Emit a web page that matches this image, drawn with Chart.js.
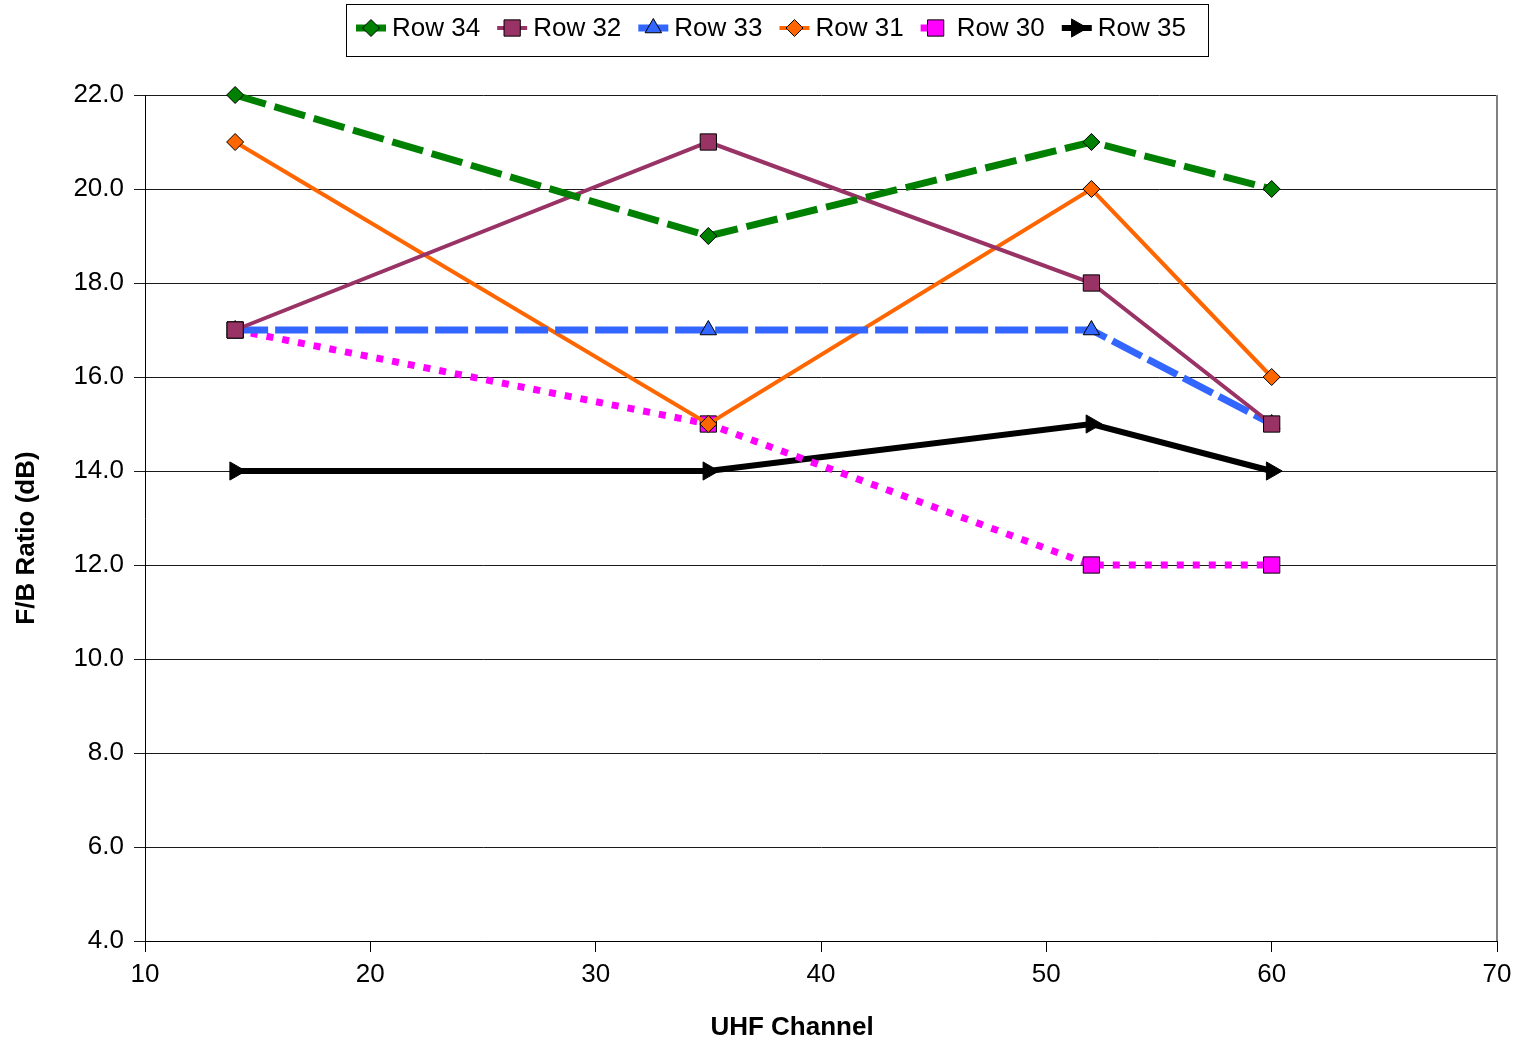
<!DOCTYPE html>
<html>
<head>
<meta charset="utf-8">
<title>F/B Ratio by UHF Channel</title>
<script src="https://cdn.jsdelivr.net/npm/chart.js@4/dist/chart.umd.min.js"></script>
<style>
  html, body { margin: 0; padding: 0; background: #fff; }
  #wrap { width: 1522px; height: 1045px; position: relative; }
  canvas { display: block; }
</style>
</head>
<body>
<div id="wrap"><canvas id="chart" width="1522" height="1045"></canvas></div>
<script>
// UHF channels measured
const channels = [14, 35, 52, 60];

// Front-to-back ratio (dB) per row
const row34 = [22, 19, 21, 20];
const row32 = [17, 21, 18, 15];
const row33 = [17, 17, 17, 15];
const row31 = [21, 15, 20, 16];
const row30 = [17, 15, 12, 12];
const row35 = [14, 14, 15, 14];

const seriesNames = ['Row 34', 'Row 32', 'Row 33', 'Row 31', 'Row 30', 'Row 35'];
const seriesValues = [row34, row32, row33, row31, row30, row35];

// Axis ticks
const xTicks = [10, 20, 30, 40, 50, 60, 70];
const yTicks = [4, 6, 8, 10, 12, 14, 16, 18, 20, 22];

const xTitle = 'UHF Channel';
const yTitle = 'F/B Ratio (dB)';

const FONT = '"Liberation Sans", Arial, sans-serif';

// Line and marker style per series
const styles = [
  { color: '#008000', width: 7, dash: [32, 9], point: 'rectRot', radius: 8.5, rotation: 0 },
  { color: '#993366', width: 4, dash: [],      point: 'rect',    radius: 11.5, rotation: 0 },
  { color: '#3366ff', width: 7, dash: [33, 7], point: 'triangle', radius: 9.5, rotation: 0 },
  { color: '#ff6600', width: 4, dash: [],      point: 'rectRot', radius: 8.5, rotation: 0 },
  { color: '#ff00ff', width: 7, dash: [7, 9],  point: 'rect',    radius: 11.5, rotation: 0 },
  { color: '#000000', width: 6, dash: [],      point: 'triangle', radius: 10.5, rotation: 90 }
];

const datasets = seriesNames.map((name, i) => {
  const s = styles[i];
  return {
    label: name,
    data: channels.map((ch, k) => ({ x: ch, y: seriesValues[i][k] })),
    borderColor: s.color,
    backgroundColor: s.color,
    borderWidth: s.width,
    borderDash: s.dash,
    borderCapStyle: 'butt',
    borderJoinStyle: 'miter',
    pointStyle: s.point,
    pointRadius: s.radius,
    pointHoverRadius: s.radius,
    pointRotation: s.rotation,
    pointBackgroundColor: s.color,
    pointBorderColor: '#000',
    pointBorderWidth: 1,
    tension: 0,
    fill: false,
    clip: false
  };
});

// Frame on the right edge of the plot
const frame = {
  id: 'frame',
  beforeDatasetsDraw(chart) {
    const { ctx, chartArea: a } = chart;
    ctx.save();
    ctx.strokeStyle = '#808080';
    ctx.lineWidth = 2;
    ctx.beginPath();
    ctx.moveTo(a.right, a.top);
    ctx.lineTo(a.right, a.bottom);
    ctx.stroke();
    ctx.restore();
  }
};

// Axis titles
const titles = {
  id: 'titles',
  afterDraw(chart) {
    const { ctx } = chart;
    ctx.save();
    ctx.fillStyle = '#000';
    ctx.font = 'bold 26px ' + FONT;
    ctx.textAlign = 'center';
    ctx.textBaseline = 'middle';
    ctx.fillText(xTitle, 792, 1028);
    ctx.translate(27, 538);
    ctx.rotate(-Math.PI / 2);
    ctx.fillText(yTitle, 0, 0);
    ctx.restore();
  }
};

// Boxed legend with a line sample and marker per series
const boxLegend = {
  id: 'boxLegend',
  afterDraw(chart) {
    const { ctx } = chart;
    ctx.save();
    ctx.strokeStyle = '#000';
    ctx.lineWidth = 1;
    ctx.strokeRect(346.5, 4.5, 862, 52);
    ctx.font = '26px ' + FONT;
    ctx.textBaseline = 'middle';
    ctx.textAlign = 'left';
    let x = 356;
    const y = 29;
    chart.data.datasets.forEach((ds) => {
      // line sample
      ctx.save();
      ctx.strokeStyle = ds.borderColor;
      ctx.lineWidth = ds.borderWidth;
      ctx.setLineDash(ds.borderDash || []);
      ctx.lineCap = 'butt';
      ctx.beginPath();
      ctx.moveTo(x, y - 1);
      ctx.lineTo(x + 30, y - 1);
      ctx.stroke();
      ctx.restore();
      // marker
      ctx.save();
      ctx.fillStyle = ds.pointBackgroundColor;
      ctx.strokeStyle = ds.pointBorderColor;
      ctx.lineWidth = 1;
      Chart.helpers.drawPoint(ctx, {
        pointStyle: ds.pointStyle,
        radius: ds.pointRadius,
        rotation: ds.pointRotation,
        borderWidth: 1
      }, x + 15, y - 1);
      ctx.restore();
      // label
      ctx.fillStyle = '#000';
      ctx.fillText(ds.label, x + 36, y);
      x += 36 + ctx.measureText(ds.label).width + 17;
    });
    ctx.restore();
  }
};

new Chart(document.getElementById('chart'), {
  type: 'line',
  data: { datasets },
  plugins: [frame, titles, boxLegend],
  options: {
    responsive: false,
    devicePixelRatio: 1,
    animation: false,
    layout: { padding: { top: 95, right: 25, left: 0, bottom: 0 } },
    plugins: {
      legend: { display: false },
      tooltip: { enabled: false },
      title: { display: false }
    },
    scales: {
      x: {
        type: 'linear',
        min: xTicks[0],
        max: xTicks[xTicks.length - 1],
        afterBuildTicks(scale) { scale.ticks = xTicks.map(v => ({ value: v })); },
        afterFit(scale) { scale.height = 104; },
        ticks: {
          color: '#000',
          font: { family: FONT, size: 26 },
          padding: 7,
          maxRotation: 0,
          callback: v => String(v)
        },
        grid: { drawOnChartArea: false, drawTicks: true, tickLength: 11, color: '#000' },
        border: { color: '#000', width: 1 }
      },
      y: {
        type: 'linear',
        min: yTicks[0],
        max: yTicks[yTicks.length - 1],
        afterBuildTicks(scale) { scale.ticks = yTicks.map(v => ({ value: v })); },
        afterFit(scale) { scale.width = 145; },
        ticks: {
          color: '#000',
          font: { family: FONT, size: 26 },
          padding: 10,
          callback: v => Number(v).toFixed(1)
        },
        grid: { drawOnChartArea: true, drawTicks: true, tickLength: 11, color: '#1a1a1a' },
        border: { color: '#000', width: 1 }
      }
    }
  }
});
</script>
</body>
</html>
